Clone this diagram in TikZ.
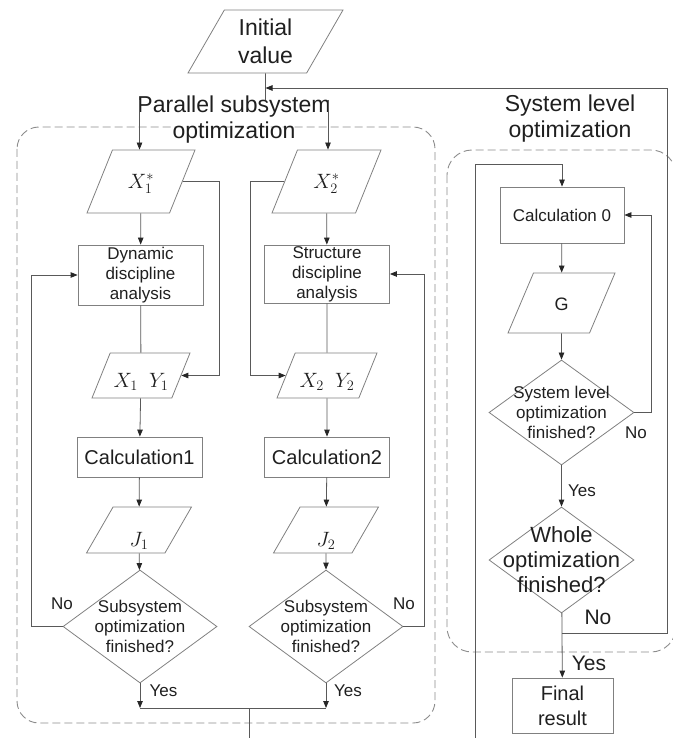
\documentclass[tikz,border=0pt]{standalone}
\usepackage{fontspec}
\setmainfont{Liberation Sans}
\usetikzlibrary{shapes.geometric,arrows.meta}
\definecolor{boxline}{gray}{0.5}
\definecolor{flowline}{gray}{0.35}
\definecolor{txt}{gray}{0.12}

\begin{document}
\begin{tikzpicture}[x=1pt,y=-1pt,
	>={Triangle[length=7pt,width=5.5pt,color=black!85]},
	every node/.style={text=txt},
	proc/.style={rectangle,draw=boxline,line width=0.8pt,minimum width=125pt,inner sep=0pt,align=center,font=\fontsize{17}{20}\selectfont},
	io/.style 2 args={trapezium,trapezium stretches body,trapezium left angle=#1,trapezium right angle=#2,draw=boxline,line width=0.8pt,inner sep=0pt,align=center,font=\fontsize{20}{24}\selectfont},
	dec/.style={diamond,draw=boxline,line width=0.8pt,inner sep=0pt},
	dectext/.style={align=center,font=\fontsize{17}{20}\selectfont},
	lbl/.style={inner sep=0pt,font=\fontsize{17}{20}\selectfont},
	grp/.style={align=center,inner sep=0pt,font=\fontsize{23}{26}\selectfont},
	groupbox/.style={draw=boxline!90,line width=0.9pt,dash pattern=on 8pt off 4pt},
	flow/.style={draw=flowline,line width=0.8pt}]
	\useasboundingbox (0,0) rectangle (672,738);

	\draw[groupbox,rounded corners=22pt] (17,127) rectangle (435,723);
	\draw[groupbox,rounded corners=25pt] (447,150) rectangle (676,652);

	\node[io={51}{129},minimum width=155pt,minimum height=63pt,font=\fontsize{23}{28}\selectfont] (init) at (265.5,41.5) {Initial\\value};
	\node[grp] (partitle) at (234,120) {Parallel subsystem\\optimization};
	\node[grp] (systitle) at (570,119) {System level\\optimization};

	\node[io={68}{112},minimum width=108pt,minimum height=63pt,text height=38pt,text depth=25pt] (xa) at (141,181.5) {$X_1^{*}$};
	\node[io={68}{112},minimum width=109pt,minimum height=63pt,text height=38pt,text depth=25pt] (xb) at (326.5,181.5) {$X_2^{*}$};
	\node[proc,minimum height=60pt] (dyn) at (140.5,275) {Dynamic\\discipline\\analysis};
	\node[proc,minimum height=58pt] (stru) at (327,274) {Structure\\discipline\\analysis};
	\node[io={68}{112},minimum width=98pt,minimum height=45pt,text height=34pt,text depth=11pt] (xya) at (141,375.5) {$X_1\ \ Y_1$};
	\node[io={68}{112},minimum width=100pt,minimum height=45pt,text height=34pt,text depth=11pt] (xyb) at (327,375.5) {$X_2\ \ Y_2$};
	\node[proc,minimum height=40pt,font=\fontsize{20}{24}\selectfont] (calca) at (139.5,457) {Calculation1};
	\node[proc,minimum height=40pt,font=\fontsize{20}{24}\selectfont] (calcb) at (327,457) {Calculation2};
	\node[io={60}{120},minimum width=105pt,minimum height=46pt,text height=39pt,text depth=7pt] (ja) at (139,530) {$J_1$};
	\node[io={60}{120},minimum width=105pt,minimum height=46pt,text height=39pt,text depth=7pt] (jb) at (326,530) {$J_2$};
	\node[dec,minimum width=154pt,minimum height=113pt,label={[dectext]center:Subsystem\\optimization\\finished?}] (suba) at (140,626.5) {};
	\node[dec,minimum width=154pt,minimum height=113pt,label={[dectext]center:Subsystem\\optimization\\finished?}] (subb) at (326,626.5) {};

	\node[proc,minimum width=124pt,minimum height=56pt] (calc0) at (562,215) {Calculation 0};
	\node[io={67}{113},minimum width=107pt,minimum height=60pt,text height=37pt,text depth=23pt,font=\fontsize{18}{22}\selectfont] (g) at (561.5,303) {G};
	\node[dec,minimum width=145pt,minimum height=105pt,label={[dectext]center:System level\\optimization\\finished?}] (sys) at (561.5,412.5) {};
	\node[dec,minimum width=145pt,minimum height=106pt,label={[dectext,font=\fontsize{22}{25}\selectfont]center:Whole\\optimization\\finished?}] (whole) at (561.5,560) {};
	\node[proc,minimum width=101pt,minimum height=55pt,font=\fontsize{20}{25}\selectfont] (fin) at (562.5,705.5) {Final\\result};

	\node[lbl] (noa) at (62,604) {No};
	\node[lbl] (nob) at (404,604) {No};
	\node[lbl] (yesa) at (163.5,691) {Yes};
	\node[lbl] (yesb) at (348,691) {Yes};
	\node[lbl] (nosys) at (636,433) {No};
	\node[lbl] (yessys) at (582,491) {Yes};
	\node[lbl,font=\fontsize{21}{24}\selectfont] (nowhole) at (598,617) {No};
	\node[lbl,font=\fontsize{21}{24}\selectfont] (yeswhole) at (589,663) {Yes};

	\coordinate (ta) at (139.5,100);
	\coordinate (tb) at (328,100);
	\coordinate (ti) at (265.5,100);
	\coordinate (jn) at (265.5,88);
	\coordinate (rt) at (667,88);
	\coordinate (brk) at (561.5,633);
	\coordinate (ya) at (140,708);
	\coordinate (yb) at (326,708);
	\coordinate (out) at (249,738);
	\coordinate (sysin) at (475,738);

	\draw[flow] (init.south) -- (ti);
	\draw[flow,->] (ta) -- (ta |- xa.north);
	\draw[flow,->] (tb) -- (tb |- xb.north);
	\draw[flow,->] (brk) -| (rt) -- (jn);

	\draw[flow,->] (xa) -- (dyn);
	\draw[flow] (dyn) -- (xya);
	\draw[flow,->] (xa.east) -- ++(37,0) |- (xya.east);
	\draw[flow,->] (xya) -- (calca);
	\draw[flow,->] (calca) -- (ja);
	\draw[flow,->] (ja) -- (suba);
	\draw[flow,->] (suba.west) -- ++(-31,0) |- (dyn.west);
	\draw[flow,->] (suba.south) -- (ya);

	\draw[flow,->] (xb) -- (stru);
	\draw[flow] (stru) -- (xyb);
	\draw[flow,->] (xb.west) -- ++(-34,0) |- (xyb.west);
	\draw[flow,->] (xyb) -- (calcb);
	\draw[flow,->] (calcb) -- (jb);
	\draw[flow,->] (jb) -- (subb);
	\draw[flow,->] (subb.east) -- ++(21,0) |- (stru.east);
	\draw[flow,->] (subb.south) -- (yb);
	\draw[flow] (ya) -- (yb);
	\draw[flow] (out |- ya) -- (out);

	\draw[flow,->] (sysin) |- ([yshift=22pt]calc0.north) -- (calc0.north);
	\draw[flow,->] (calc0) -- (g);
	\draw[flow,->] (g) -- (sys);
	\draw[flow,->] (sys.east) -- ++(17,0) |- (calc0.east);
	\draw[flow,->] (sys) -- (whole);
	\draw[flow,->] (whole) -- (fin);
\end{tikzpicture}
\end{document}
